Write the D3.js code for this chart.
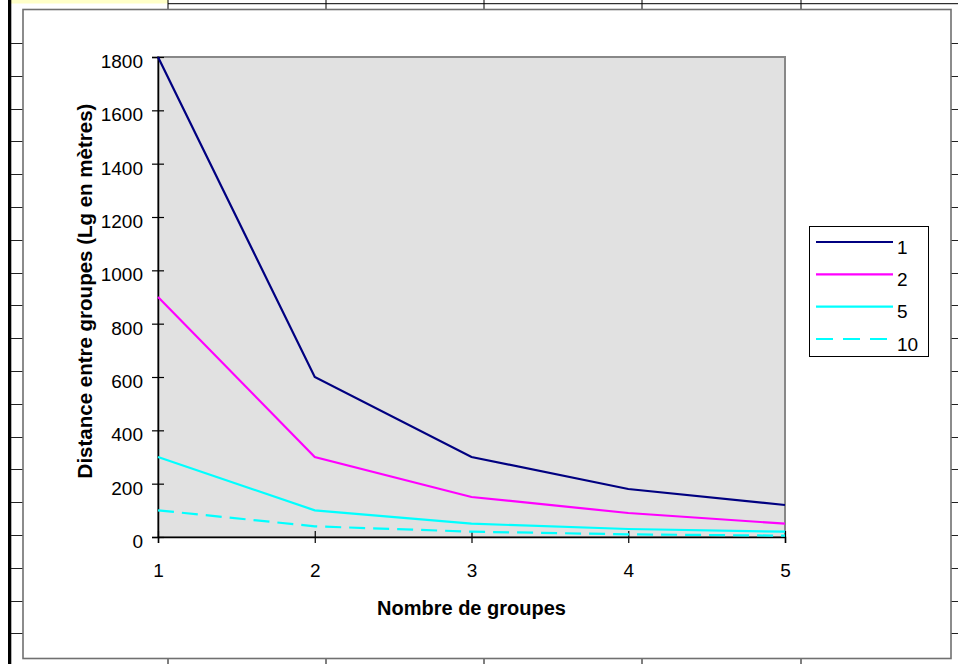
<!DOCTYPE html>
<html>
<head>
<meta charset="utf-8">
<script src="https://cdn.jsdelivr.net/npm/d3@7"></script>
<style>
  body { margin: 0; background: #fff; }
  svg { display: block; }
  svg text { font-family: Arial, "Liberation Sans", sans-serif; }
</style>
</head>
<body>
<svg id="chart"></svg>
<script>
// chart data
var groupes = [1, 2, 3, 4, 5];
var yTicks = [0, 200, 400, 600, 800, 1000, 1200, 1400, 1600, 1800];
var serieNames = ['1', '2', '5', '10'];
var serie1 = [1800, 600, 300, 180, 120];
var serie2 = [900, 300, 150, 90, 50];
var serie5 = [300, 100, 50, 30, 20];
var serie10 = [100, 40, 20, 10, 5];
var serieColors = ['#000080', '#ff00ff', '#00ffff', '#00ffff'];
var serieDash = [null, null, null, '16,8'];

(function () {
    var width = 958, height = 664;
    var font = 'Arial, "Liberation Sans", sans-serif';

    var svg = d3.select('#chart').attr('width', width).attr('height', height);

    // --- spreadsheet around the chart ---
    svg.append('rect').attr('x', 11).attr('y', 0).attr('width', 157).attr('height', 3.5).attr('fill', '#ffffc8');
    svg.append('line').attr('x1', 168).attr('x2', width).attr('y1', 3.7).attr('y2', 3.7)
        .attr('stroke', '#000').attr('stroke-width', 1);
    [168, 326, 484, 642, 801].forEach(function (cx) {
        svg.append('line').attr('x1', cx).attr('x2', cx).attr('y1', 0).attr('y2', 10).attr('stroke', '#000');
        svg.append('line').attr('x1', cx).attr('x2', cx).attr('y1', 658).attr('y2', height).attr('stroke', '#000');
    });
    svg.append('rect').attr('x', 8).attr('y', 0).attr('width', 3.3).attr('height', height).attr('fill', '#000');
    d3.range(0, 19).forEach(function (k) {
        var ry = Math.round(43 + k * 32.8) + 0.5;
        svg.append('line').attr('x1', 11).attr('x2', 23).attr('y1', ry).attr('y2', ry).attr('stroke', '#222');
        svg.append('line').attr('x1', 951).attr('x2', width).attr('y1', ry).attr('y2', ry).attr('stroke', '#222');
    });

    // --- chart area ---
    svg.append('rect').attr('x', 23).attr('y', 9.5).attr('width', 928).attr('height', 649)
        .attr('fill', '#fff').attr('stroke', '#707070').attr('stroke-width', 1.6);

    var x = d3.scaleLinear().domain([1, 5]).range([158, 785]);
    var y = d3.scaleLinear().domain([0, 1800]).range([537, 57]);

    // plot area
    svg.append('rect').attr('x', x(1)).attr('y', y(1800))
        .attr('width', x(5) - x(1)).attr('height', y(0) - y(1800))
        .attr('fill', '#e1e1e1').attr('stroke', '#888').attr('stroke-width', 2);

    // y axis
    var yAxis = svg.append('g').attr('transform', 'translate(' + x(1) + ',0)')
        .call(d3.axisLeft(y).tickValues(yTicks).tickFormat(d3.format('d')).tickSize(6).tickPadding(9));
    yAxis.attr('font-family', font).attr('font-size', 19);
    yAxis.select('.domain').attr('stroke', '#000').attr('stroke-width', 1.5);
    yAxis.selectAll('.tick line').attr('x1', 6).attr('stroke', '#000').attr('stroke-width', 1.2);
    yAxis.selectAll('.tick text').attr('fill', '#000').attr('dy', null).attr('y', 10.5);

    // x axis
    var xAxis = svg.append('g').attr('transform', 'translate(0,' + y(0) + ')')
        .call(d3.axisBottom(x).tickValues(groupes).tickFormat(d3.format('d')).tickSize(6));
    xAxis.attr('font-family', font).attr('font-size', 19);
    xAxis.select('.domain').attr('stroke', '#000').attr('stroke-width', 1.5);
    xAxis.selectAll('.tick line').attr('y1', -6).attr('stroke', '#000').attr('stroke-width', 1.2);
    xAxis.selectAll('.tick text').attr('fill', '#000').attr('dy', null).attr('y', 40);

    // series lines
    var series = [serie1, serie2, serie5, serie10];
    var line = d3.line()
        .x(function (d, i) { return x(groupes[i]); })
        .y(function (d) { return y(d); });

    svg.append('g').selectAll('path')
        .data(series)
        .enter().append('path')
            .attr('d', line)
            .attr('fill', 'none')
            .attr('stroke', function (d, i) { return serieColors[i]; })
            .attr('stroke-width', 2.2)
            .attr('stroke-dasharray', function (d, i) { return serieDash[i]; });

    // axis titles
    svg.append('text')
        .attr('x', (x(1) + x(5)) / 2).attr('y', 615)
        .attr('text-anchor', 'middle').attr('font-size', 20).attr('font-weight', 'bold')
        .text('Nombre de groupes');
    svg.append('text')
        .attr('transform', 'translate(92,291) rotate(-90)')
        .attr('text-anchor', 'middle').attr('font-size', 20.5).attr('font-weight', 'bold')
        .text('Distance entre groupes (Lg en mètres)');

    // legend
    var legend = svg.append('g');
    legend.append('rect').attr('x', 809.5).attr('y', 226.5).attr('width', 119).attr('height', 130)
        .attr('fill', '#fff').attr('stroke', '#000').attr('stroke-width', 1);
    var legendY = d3.scalePoint().domain(serieNames).range([242, 339]);
    var item = legend.selectAll('.item')
        .data(serieNames)
        .enter().append('g')
            .attr('class', 'item')
            .attr('transform', function (d) { return 'translate(0,' + legendY(d) + ')'; });
    item.append('line')
        .attr('x1', 816).attr('x2', 893).attr('y1', 0).attr('y2', 0)
        .attr('stroke', function (d, i) { return serieColors[i]; })
        .attr('stroke-width', 2.2)
        .attr('stroke-dasharray', function (d, i) { return serieDash[i] ? '17,10' : null; });
    item.append('text')
        .attr('x', 897).attr('y', 11.5)
        .attr('font-size', 19)
        .text(function (d) { return d; });
}());
</script>
</body>
</html>
